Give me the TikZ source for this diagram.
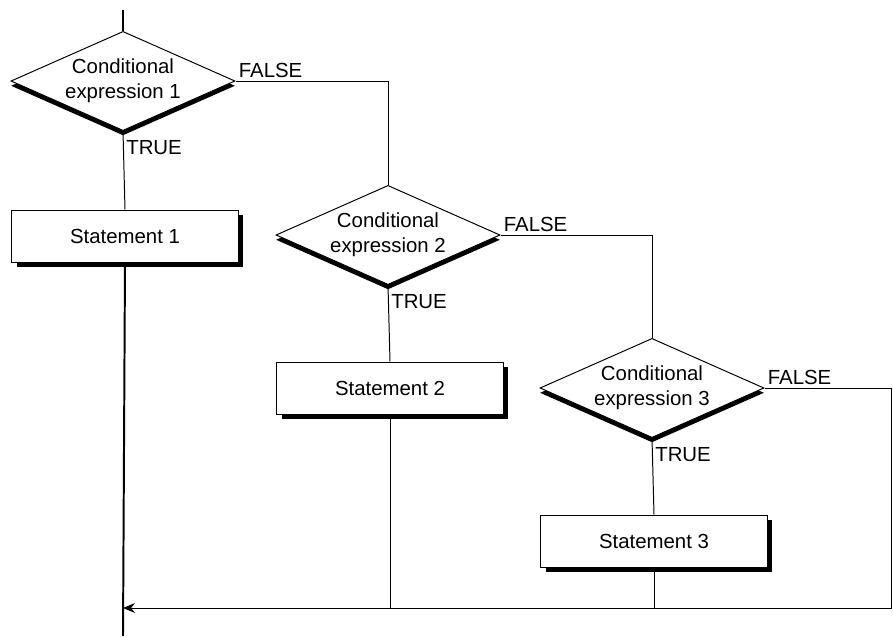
\documentclass[tikz,border=0pt]{standalone}
\usepackage{fontspec}
\setmainfont{Liberation Sans}
\usetikzlibrary{shapes.geometric,shadows,arrows.meta}
\tikzset{
	cond/.style={diamond, draw, line width=0.7pt, fill=white, inner sep=0pt, aspect=2.28, minimum width=5.6cm, minimum height=2.48cm, align=center, font=\fontsize{14.5}{18}\selectfont, drop shadow={shadow xshift=0pt, shadow yshift=-0.12cm, fill=black, opacity=1}},
	stmt/.style={rectangle, draw, line width=0.7pt, fill=white, minimum width=5.65cm, minimum height=1.3cm, font=\fontsize{14.5}{18}\selectfont, drop shadow={shadow xshift=0.12cm, shadow yshift=-0.12cm, fill=black, opacity=1}},
	flow/.style={line width=0.7pt},
	mainline/.style={line width=1.4pt},
	lbl/.style={font=\fontsize{14.5}{18}\selectfont, inner sep=2pt}
}
\begin{document}
\begin{tikzpicture}[x=0.025cm, y=-0.025cm]
			%%%%% START %%%%%
			\useasboundingbox (0, 0) rectangle (893, 637);
			
			\node[cond] (cond1) at (123, 81) {Conditional\\expression 1};
			\node[cond] (cond2) at (388, 235) {Conditional\\expression 2};
			\node[cond] (cond3) at (652, 388) {Conditional\\expression 3};
			
			\node[stmt] (stmt1) at (125, 236) {Statement 1};
			\node[stmt] (stmt2) at (390, 388) {Statement 2};
			\node[stmt] (stmt3) at (654, 541) {Statement 3};
			
			\coordinate (start) at (123, 10);
			\coordinate (end) at (123, 636);
			\coordinate (merge) at (123, 608);
			\coordinate (corner) at (891, 608);
			
			\draw[mainline] (start) -- (cond1.north);
			\draw[flow] (cond1.south) -- node[lbl, pos=0, anchor=north west, yshift=-4pt] {TRUE} (stmt1.north);
			\draw[mainline] (stmt1.south) -- (end);
			
			\draw[flow] (cond1.east) -- node[lbl, pos=0, anchor=south west] {FALSE} (cond1.east -| cond2.north) -- (cond2.north);
			\draw[flow] (cond2.south) -- node[lbl, pos=0, anchor=north west, yshift=-4pt] {TRUE} (stmt2.north);
			\draw[flow] (stmt2.south) -- (stmt2.south |- merge);
			
			\draw[flow] (cond2.east) -- node[lbl, pos=0, anchor=south west] {FALSE} (cond2.east -| cond3.north) -- (cond3.north);
			\draw[flow] (cond3.south) -- node[lbl, pos=0, anchor=north west, yshift=-4pt] {TRUE} (stmt3.north);
			\draw[flow] (stmt3.south) -- (stmt3.south |- merge);
			
			\draw[flow, -{Stealth[length=8.5pt, width=7pt]}] (cond3.east) -- node[lbl, pos=0, anchor=south west] {FALSE} (cond3.east -| corner) -- (corner) -- (merge);
			
			%%%%% END %%%%%
		\end{tikzpicture}
\end{document}
